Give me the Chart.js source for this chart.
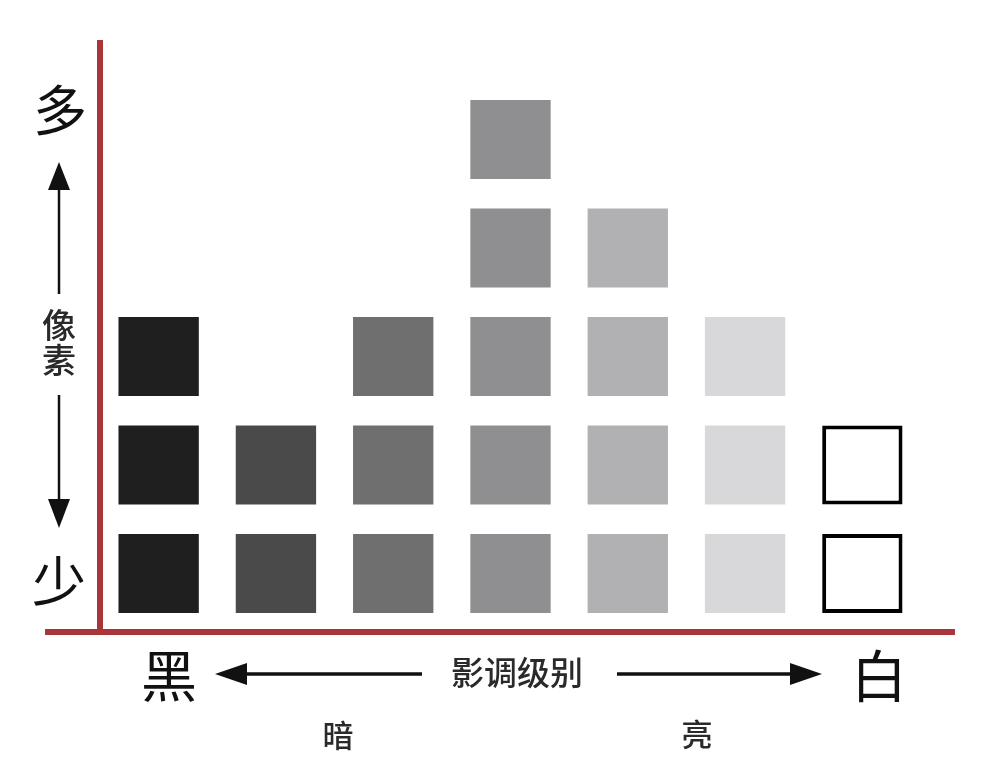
<!DOCTYPE html>
<html>
<head>
<meta charset="utf-8">
<script src="https://cdn.jsdelivr.net/npm/chart.js@4.4.1/dist/chart.umd.min.js"></script>
<style>
  html, body { margin: 0; padding: 0; background: #ffffff; }
  #wrap { position: relative; width: 994px; height: 776px; }
  canvas { display: block; }
</style>
</head>
<body>
<div id="wrap"><canvas id="c" width="994" height="776"></canvas></div>
<script>
// ---- data ----
const categories = ['黑', '深灰', '暗灰', '中灰', '亮灰', '浅灰', '白'];
const pixelCounts = [3, 2, 3, 5, 4, 3, 2];
const yAxisLabels = ['多', '像素', '少'];
const xAxisLabels = ['黑', '影调级别', '白'];
const xSubLabels = ['暗', '亮'];

// ---- styles ----
const toneColors = ['#1f1f1f', '#4a4a4a', '#6f6f6f', '#8f8f91', '#b1b1b3', '#d8d8da', '#ffffff'];
const toneBorders = [0, 0, 0, 0, 0, 0, 4];
const RED = '#a9343a';
const CELL_BOTTOM = 0.175;  // gap under each square (in row units)
const CELL_SIZE = 0.728;    // square height (in row units)

const maxRows = Math.max(...pixelCounts);
const datasets = [];
for (let r = 0; r < maxRows; r++) {
  datasets.push({
    label: 'row ' + (r + 1),
    data: pixelCounts.map(n => n > r ? [r + CELL_BOTTOM, r + CELL_BOTTOM + CELL_SIZE] : null),
    backgroundColor: toneColors,
    borderColor: '#000000',
    borderWidth: toneBorders,
    borderSkipped: false,
    grouped: false,
    categoryPercentage: 1.0,
    barPercentage: 0.685
  });
}

const decor = {
  id: 'decor',
  afterDraw(chart) {
    const ctx = chart.ctx;
    const a = chart.chartArea;
    ctx.save();
    // red axes
    ctx.strokeStyle = RED;
    ctx.lineWidth = 6;
    ctx.beginPath();
    ctx.moveTo(a.left, a.top);
    ctx.lineTo(a.left, a.bottom + 3);
    ctx.stroke();
    ctx.beginPath();
    ctx.moveTo(a.left - 55, a.bottom);
    ctx.lineTo(a.right + 34, a.bottom);
    ctx.stroke();

    ctx.fillStyle = '#111';
    ctx.strokeStyle = '#111';
    ctx.textAlign = 'center';
    ctx.textBaseline = 'middle';
    const cjk = '"Noto Sans CJK SC", "Noto Sans", sans-serif';

    // y-axis labels
    ctx.font = '400 54px ' + cjk;
    ctx.fillText(yAxisLabels[0], 60, 110);
    ctx.fillText(yAxisLabels[2], 59, 581);
    ctx.fillStyle = '#2a2a2a';
    ctx.font = '500 34px ' + cjk;
    ctx.fillText(yAxisLabels[1][0], 59, 325);
    ctx.fillText(yAxisLabels[1][1], 59, 360);

    // vertical arrows
    ctx.fillStyle = '#111';
    ctx.lineWidth = 2.5;
    ctx.beginPath(); ctx.moveTo(59, 188); ctx.lineTo(59, 294); ctx.stroke();
    ctx.beginPath(); ctx.moveTo(59, 162); ctx.lineTo(48, 190); ctx.lineTo(70, 190); ctx.closePath(); ctx.fill();
    ctx.beginPath(); ctx.moveTo(59, 395); ctx.lineTo(59, 502); ctx.stroke();
    ctx.beginPath(); ctx.moveTo(59, 528); ctx.lineTo(48, 499); ctx.lineTo(70, 499); ctx.closePath(); ctx.fill();

    // x-axis labels
    ctx.font = '400 56px ' + cjk;
    ctx.fillText(xAxisLabels[0], 169, 676);
    ctx.fillText(xAxisLabels[2], 879, 676);
    ctx.fillStyle = '#2a2a2a';
    ctx.font = '500 33px ' + cjk;
    ctx.fillText(xAxisLabels[1], 517, 672);
    ctx.font = '500 31px ' + cjk;
    ctx.fillText(xSubLabels[0], 338, 735);
    ctx.fillText(xSubLabels[1], 697, 734);

    // horizontal arrows
    ctx.fillStyle = '#111';
    ctx.lineWidth = 3.5;
    ctx.beginPath(); ctx.moveTo(244, 674); ctx.lineTo(422, 674); ctx.stroke();
    ctx.beginPath(); ctx.moveTo(215, 674); ctx.lineTo(247, 663); ctx.lineTo(247, 685); ctx.closePath(); ctx.fill();
    ctx.beginPath(); ctx.moveTo(617, 674); ctx.lineTo(793, 674); ctx.stroke();
    ctx.beginPath(); ctx.moveTo(822, 674); ctx.lineTo(790, 663); ctx.lineTo(790, 685); ctx.closePath(); ctx.fill();
    ctx.restore();
  }
};

new Chart(document.getElementById('c'), {
  type: 'bar',
  data: { labels: categories, datasets },
  options: {
    responsive: false,
    animation: false,
    layout: { padding: { left: 100, right: 73, top: 40, bottom: 144 } },
    plugins: { legend: { display: false }, tooltip: { enabled: false } },
    scales: {
      x: { display: false, offset: true },
      y: { display: false, min: 0, max: 5.456 }
    }
  },
  plugins: [decor]
});
</script>
</body>
</html>
